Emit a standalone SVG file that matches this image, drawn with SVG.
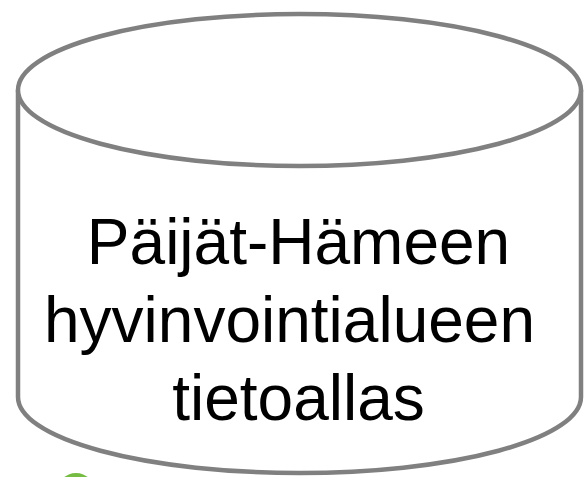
<svg xmlns="http://www.w3.org/2000/svg" width="585" height="477" viewBox="0 0 585 477">
  <style>
    .shape { fill: #ffffff; stroke: #808080; stroke-width: 4.5; }
    .label { font-family: "Liberation Sans", Arial, sans-serif; font-size: 64px; fill: #000000; text-anchor: middle; }
  </style>
  <rect width="585" height="477" fill="#ffffff"/>
  <!-- partially visible green badge at the bottom edge -->
  <circle cx="76" cy="492" r="19" fill="#76bc43"/>
  <g id="data-lake">
    <path class="shape" d="M18,90 L18,397 A281.5,76 0 0 0 581,397 L581,90"/>
    <ellipse class="shape" cx="299.5" cy="90" rx="281.5" ry="76"/>
    <text class="label" x="298.5" y="264">Päijät-Hämeen</text>
    <text class="label" x="289.5" y="342">hyvinvointialueen</text>
    <text class="label" x="298.5" y="420">tietoallas</text>
  </g>
</svg>
